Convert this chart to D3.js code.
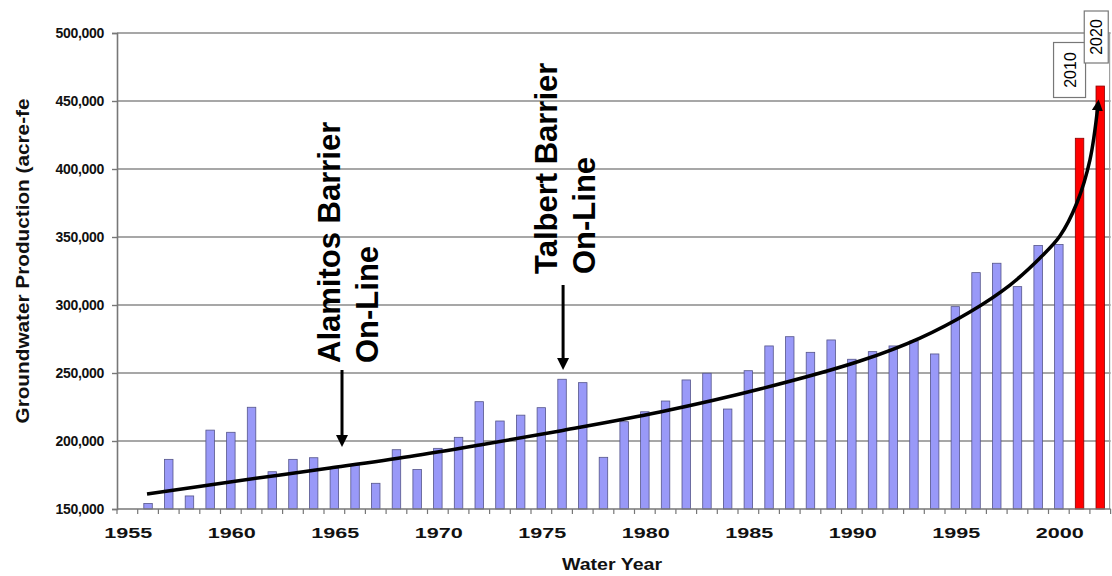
<!DOCTYPE html>
<html>
<head>
<meta charset="utf-8">
<script src="https://cdn.jsdelivr.net/npm/d3@7"></script>
<style>
  html, body { margin: 0; padding: 0; background: #ffffff; }
  svg { display: block; font-family: "Liberation Sans", Arial, sans-serif; }
</style>
</head>
<body>
<script>
// ---------------- data ----------------
const categories = ["1955","1956","1957","1958","1959","1960","1961","1962","1963","1964",
  "1965","1966","1967","1968","1969","1970","1971","1972","1973","1974",
  "1975","1976","1977","1978","1979","1980","1981","1982","1983","1984",
  "1985","1986","1987","1988","1989","1990","1991","1992","1993","1994",
  "1995","1996","1997","1998","1999","2000","2010","2020"];

// historic groundwater production (acre-feet), 1955 below axis minimum
const production = [null,154000,186500,159600,208000,206400,224800,177400,186500,187700,
  180000,182400,168900,193600,179000,194600,202700,228900,214700,219000,
  224500,245400,242900,188000,214200,221500,229400,244900,249800,223500,
  251700,269900,276700,265200,274300,260100,265700,269900,273500,264000,
  298800,323800,330700,313500,343800,344500,null,null];

// projected production
const projected = [null,null,null,null,null,null,null,null,null,null,
  null,null,null,null,null,null,null,null,null,null,
  null,null,null,null,null,null,null,null,null,null,
  null,null,null,null,null,null,null,null,null,null,
  null,null,null,null,null,null,422600,461000];

// trend curve (position in category units, value)
const trendPos = [0.95, 4.96, 9.79, 13.65, 17.03, 20.9, 25.73, 30.56, 35.39, 38.29, 40.7, 42.64, 44.09, 45.05, 45.87, 46.5, 46.89];
const trendVal = [161000, 169900, 180100, 188600, 197100, 207400, 221300, 238200, 258800, 275700, 294900, 314700, 334600, 350700, 375000, 406600, 447000];

const yTicks = [150000, 200000, 250000, 300000, 350000, 400000, 450000, 500000];
const xLabels = ["1955","1960","1965","1970","1975","1980","1985","1990","1995","2000"];
const projLabels = ["2010","2020"];

// annotations (position in category units)
const annotations = [
  { pos: 10.37, lines: ["Alamitos Barrier", "On-Line"] },
  { pos: 21.05, lines: ["Talbert Barrier", "On-Line"] }
];

// ---------------- layout ----------------
const W = 1112, H = 576;
const pLeft = 117, pRight = 1110.6, pTop = 33, pBottom = 509;

const svg = d3.select("body").append("svg").attr("width", W).attr("height", H);

const x = d3.scaleBand().domain(categories).range([pLeft, pRight])
  .paddingInner(0.59).paddingOuter(0.295);
const xc = d3.scaleLinear().domain([-0.5, categories.length - 0.5]).range([pLeft, pRight]);
const y = d3.scaleLinear().domain([150000, 500000]).range([pBottom, pTop]);

// gridlines
svg.append("g").selectAll("line").data(yTicks.slice(1)).join("line")
  .attr("x1", pLeft).attr("x2", pRight)
  .attr("y1", d => y(d)).attr("y2", d => y(d))
  .attr("stroke", "#8a8a8a").attr("stroke-width", 1.6);

// right border
svg.append("line").attr("x1", pRight - 1).attr("x2", pRight - 1)
  .attr("y1", y(500000)).attr("y2", pBottom)
  .attr("stroke", "#a0a0a0").attr("stroke-width", 1.2);

// y axis
const yAxis = d3.axisLeft(y).tickValues(yTicks).tickSize(5).tickPadding(8)
  .tickFormat(d3.format(","));
const gy = svg.append("g").attr("transform", `translate(${pLeft},0)`).call(yAxis);
gy.select(".domain").attr("stroke", "#777").attr("stroke-width", 1.6);
gy.selectAll(".tick line").attr("stroke", "#777").attr("stroke-width", 1.4);
gy.selectAll(".tick text").attr("font-size", 14).attr("font-weight", "bold")
  .attr("fill", "#111").attr("font-family", "'Liberation Sans', Arial, sans-serif")
  .attr("letter-spacing", "-0.3");

// bars (historic)
svg.append("g").selectAll("rect")
  .data(categories.map((c, i) => ({ c, v: production[i] })).filter(d => d.v != null))
  .join("rect")
  .attr("x", d => x(d.c)).attr("width", x.bandwidth())
  .attr("y", d => y(d.v)).attr("height", d => y(150000) - y(d.v))
  .attr("fill", "#9999f8").attr("stroke", "#55558a").attr("stroke-width", 0.8);

// bars (projected)
svg.append("g").selectAll("rect")
  .data(categories.map((c, i) => ({ c, v: projected[i] })).filter(d => d.v != null))
  .join("rect")
  .attr("x", d => x(d.c)).attr("width", x.bandwidth())
  .attr("y", d => y(d.v)).attr("height", d => y(150000) - y(d.v))
  .attr("fill", "#ff0000").attr("stroke", "#8a0000").attr("stroke-width", 0.8);

// x axis line and ticks
svg.append("line").attr("x1", pLeft).attr("x2", pRight).attr("y1", pBottom).attr("y2", pBottom)
  .attr("stroke", "#777").attr("stroke-width", 1.6);
svg.append("g").selectAll("line").data(d3.range(categories.length + 1)).join("line")
  .attr("x1", d => xc(d - 0.5)).attr("x2", d => xc(d - 0.5))
  .attr("y1", pBottom).attr("y2", pBottom + 5)
  .attr("stroke", "#777").attr("stroke-width", 1.2);

// x labels
svg.append("g").selectAll("text").data(xLabels).join("text")
  .attr("x", d => x(d) + x.bandwidth() / 2 + 1).attr("y", 538)
  .attr("text-anchor", "middle").attr("font-size", 15).attr("font-weight", "bold")
  .attr("fill", "#111").attr("textLength", 48).attr("lengthAdjust", "spacingAndGlyphs")
  .text(d => d);

// axis titles
svg.append("text").attr("x", 612).attr("y", 570).attr("text-anchor", "middle")
  .attr("font-size", 16).attr("font-weight", "bold").attr("fill", "#111")
  .attr("textLength", 100).attr("lengthAdjust", "spacingAndGlyphs")
  .text("Water Year");

svg.append("text").attr("transform", "translate(29,261) rotate(-90)")
  .attr("text-anchor", "middle").attr("font-size", 18).attr("font-weight", "bold")
  .attr("fill", "#111").attr("textLength", 325).attr("lengthAdjust", "spacingAndGlyphs")
  .text("Groundwater Production (acre-fe");

// trend curve with arrowhead
const defs = svg.append("defs");
defs.append("marker").attr("id", "arr").attr("viewBox", "0 0 10 10")
  .attr("refX", 5).attr("refY", 5).attr("markerWidth", 3.2).attr("markerHeight", 3.2)
  .attr("orient", "auto").attr("markerUnits", "strokeWidth")
  .append("path").attr("d", "M0,0 L10,5 L0,10 Z").attr("fill", "#000");

const line = d3.line().x(d => xc(d[0])).y(d => y(d[1])).curve(d3.curveCatmullRom.alpha(0.5));
svg.append("path").datum(trendPos.map((p, i) => [p, trendVal[i]]))
  .attr("d", line).attr("fill", "none").attr("stroke", "#000").attr("stroke-width", 3.5)
  .attr("marker-end", "url(#arr)");

// annotations
const annCfg = [
  { textBottom: 363, arrowTop: 370, arrowTip: 447, dx1: -2, dx2: 36 },
  { textBottom: 274, arrowTop: 285, arrowTip: 370, dx1: -6, dx2: 32 }
];
annotations.forEach((a, i) => {
  const cfg = annCfg[i];
  const ax = xc(a.pos);
  const g = svg.append("g");
  g.append("line").attr("x1", ax).attr("x2", ax)
    .attr("y1", cfg.arrowTop).attr("y2", cfg.arrowTip - 10)
    .attr("stroke", "#000").attr("stroke-width", 3);
  g.append("path")
    .attr("d", `M${ax - 6},${cfg.arrowTip - 12} L${ax + 6},${cfg.arrowTip - 12} L${ax},${cfg.arrowTip} Z`)
    .attr("fill", "#000");
  g.append("text").attr("transform", `translate(${ax + cfg.dx1},${cfg.textBottom}) rotate(-90)`)
    .attr("font-size", 31).attr("font-weight", "bold").attr("fill", "#000")
    .text(a.lines[0]);
  g.append("text").attr("transform", `translate(${ax + cfg.dx2},${cfg.textBottom}) rotate(-90)`)
    .attr("font-size", 31).attr("font-weight", "bold").attr("fill", "#000")
    .text(a.lines[1]);
});

// projection labels in boxes
const boxCfg = [
  { cx: -10, cy: 70, w: 32, h: 55 },
  { cx: -4, cy: 37, w: 24, h: 52 }
];
projLabels.forEach((lab, i) => {
  const b = boxCfg[i];
  const bx = x(lab) + x.bandwidth() / 2 + b.cx;
  const g = svg.append("g");
  g.append("rect").attr("x", bx - b.w / 2).attr("y", b.cy - b.h / 2)
    .attr("width", b.w).attr("height", b.h)
    .attr("fill", "#fff").attr("stroke", "#777").attr("stroke-width", 1.2);
  g.append("text").attr("transform", `translate(${bx + 6},${b.cy}) rotate(-90)`)
    .attr("text-anchor", "middle").attr("font-size", 16).attr("fill", "#000")
    .text(lab);
});
</script>
</body>
</html>
